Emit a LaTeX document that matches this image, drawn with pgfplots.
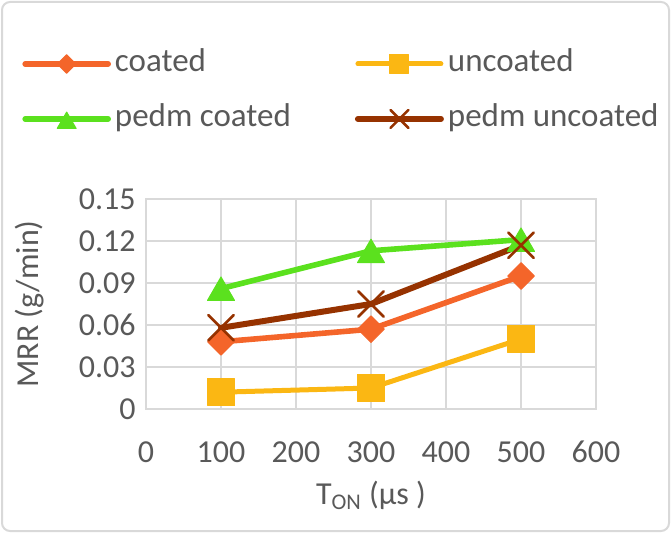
\documentclass[border=0pt]{standalone}
\usepackage{pgfplots}
\pgfplotsset{compat=1.18}
\usepackage{fontspec}
\setmainfont{Carlito}
\definecolor{txtgray}{HTML}{595959}
\definecolor{gridgray}{HTML}{D9D9D9}
\definecolor{scoated}{HTML}{F4652A}
\definecolor{suncoated}{HTML}{FBB713}
\definecolor{spcoated}{HTML}{5BE11E}
\definecolor{spuncoated}{HTML}{963200}

\begin{document}
\begin{tikzpicture}
\useasboundingbox (0,0) rectangle (335.5bp,266.5bp);
\draw[gridgray, line width=1bp, rounded corners=4bp] (1bp,1bp) rectangle (334.5bp,265.5bp);
\begin{axis}[
    at={(73bp,62bp)}, anchor=south west,
    scale only axis, width=225bp, height=105bp,
    xmin=0, xmax=600, ymin=0, ymax=0.15,
    xtick={0,100,200,300,400,500,600},
    ytick={0,0.03,0.06,0.09,0.12,0.15},
    grid=major,
    grid style={gridgray, line width=1bp},
    axis line style={gridgray, line width=1bp},
    major tick length=0pt,
    tick label style={text=txtgray, font=\fontsize{16bp}{19bp}\selectfont,
        /pgf/number format/assume math mode=true},
    yticklabel style={/pgf/number format/fixed, /pgf/number format/precision=2,
        anchor=east, inner sep=0pt, xshift=-5bp},
    xticklabel style={anchor=base, inner sep=0pt, yshift=-26.5bp},
    xlabel={T\textsubscript{ON} (µs )},
    ylabel={MRR (g/min)},
    every axis x label/.style={at={(axis description cs:0.5,-0.455)}, anchor=base,
        text=txtgray, font=\fontsize{16bp}{19bp}\selectfont},
    every axis y label/.style={at={(axis description cs:-0.2578,0.5)}, rotate=90, anchor=center,
        text=txtgray, font=\fontsize{16bp}{19bp}\selectfont},
    legend columns=2,
    legend cell align=left,
    legend style={draw=none, fill=none, inner sep=0pt,
        at={(axis description cs:-0.2756,1.714)}, anchor=north west,
        column sep=2bp, row sep=13bp,
        /tikz/every even column/.append style={column sep=32bp},
        nodes={inner sep=0pt, text=txtgray, text height=11bp, text depth=3.5bp,
            font=\fontsize{16.5bp}{19bp}\selectfont}},
    legend image code/.code={
        \draw[mark repeat=2, mark phase=2, #1, mark size=0.7\pgfplotmarksize]
            plot coordinates {(0bp,0bp) (20.75bp,0bp) (41.5bp,0bp)};},
]
\addplot[scoated, line width=2.8bp, line join=round, line cap=round,
    mark=square*, mark size=4.7bp, mark options={rotate=45, line width=0.5bp}]
    coordinates {(100,0.048) (300,0.057) (500,0.095)};
\addlegendentry{coated}
\addplot[suncoated, line width=2.5bp, line join=round, line cap=round,
    mark=square*, mark size=6.75bp, mark options={line width=0.5bp}]
    coordinates {(100,0.012) (300,0.015) (500,0.050)};
\addlegendentry{uncoated}
\addplot[spcoated, line width=2.8bp, line join=round, line cap=round,
    mark=triangle*, mark size=7.8bp, mark options={line width=0.5bp, yshift=-2bp}]
    coordinates {(100,0.086) (300,0.113) (500,0.121)};
\addlegendentry{pedm coated}
\addplot[spuncoated, line width=3bp, line join=round, line cap=round,
    mark=x, mark size=9bp, mark options={line width=1.3bp}]
    coordinates {(100,0.058) (300,0.075) (500,0.117)};
\addlegendentry{pedm uncoated}
\end{axis}
\end{tikzpicture}
\end{document}
